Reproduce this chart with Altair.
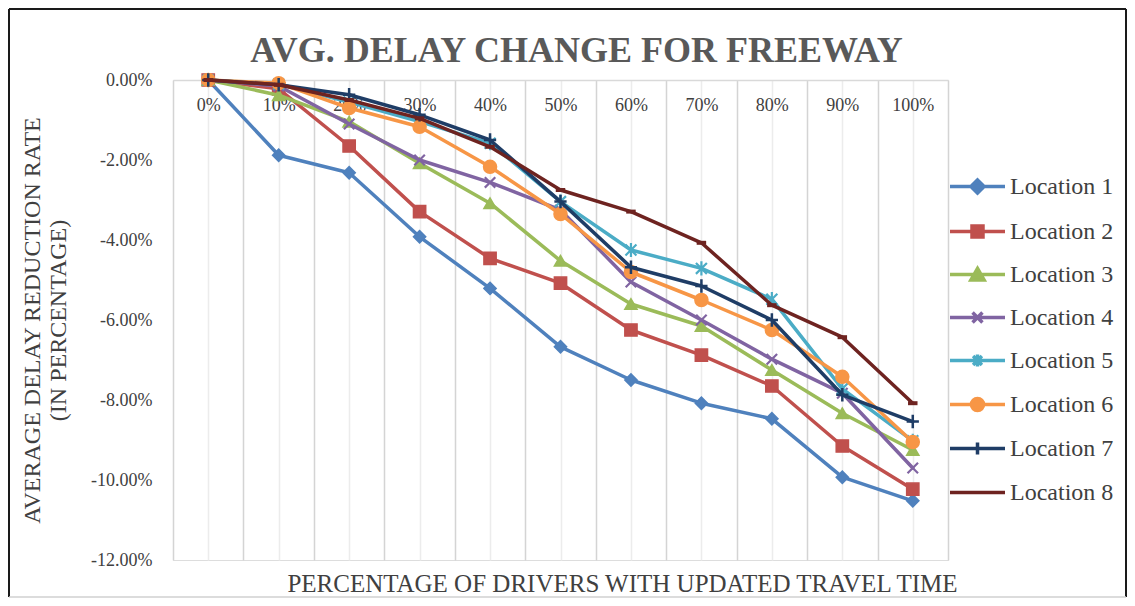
import altair as alt
import pandas as pd

# ---- data -------------------------------------------------------------
pct = [0, 10, 20, 30, 40, 50, 60, 70, 80, 90, 100]
locations = ["Location 1", "Location 2", "Location 3", "Location 4",
             "Location 5", "Location 6", "Location 7", "Location 8"]

loc1 = [0, -1.88, -2.32, -3.92, -5.21, -6.67, -7.50, -8.08, -8.47, -9.93, -10.52]
loc2 = [0, -0.22, -1.65, -3.29, -4.46, -5.08, -6.25, -6.88, -7.65, -9.15, -10.23]
loc3 = [0, -0.38, -1.04, -2.08, -3.08, -4.52, -5.60, -6.15, -7.25, -8.33, -9.25]
loc4 = [0, -0.15, -1.10, -2.00, -2.56, -3.25, -5.05, -6.00, -6.98, -7.83, -9.70]
loc5 = [0, -0.10, -0.55, -1.04, -1.58, -3.04, -4.25, -4.71, -5.48, -7.72, -9.02]
loc6 = [0, -0.08, -0.70, -1.17, -2.17, -3.35, -4.80, -5.50, -6.25, -7.42, -9.05]
loc7 = [0, -0.12, -0.37, -0.87, -1.50, -3.04, -4.68, -5.15, -6.00, -7.87, -8.54]
loc8 = [0, -0.12, -0.50, -0.96, -1.67, -2.75, -3.29, -4.07, -5.63, -6.43, -8.08]
series = [loc1, loc2, loc3, loc4, loc5, loc6, loc7, loc8]

y_ticks = [0, -2, -4, -6, -8, -10, -12]

colors = ["#4F81BD", "#C0504D", "#9BBB59", "#8064A2",
          "#4BACC6", "#F79646", "#1F3D66", "#6E2320"]

# plot markers (Vega symbol shapes / unit paths)
plot_shapes = ["diamond", "square", "triangle-up",
               "M-1,-1L1,1M-1,1L1,-1",
               "M-1,-1L1,1M-1,1L1,-1M0,-1.3V1.3",
               "circle",
               "M-1,0H1M0,-1.1V1.1",
               "M-1,0H1"]
plot_sizes = [150, 150, 150, 110, 120, 170, 150, 90]
plot_strokes = [1.5, 1.5, 1.5, 2.2, 2.2, 1.5, 2.5, 4]

# legend symbols: line segment with marker
legend_shapes = [
    "M-1,0H1M0,-0.24L0.24,0L0,0.24L-0.24,0Z",
    "M-1,0H1M-0.2,-0.2H0.2V0.2H-0.2Z",
    "M-1,0H1M0,-0.22L0.24,0.2H-0.24Z",
    "M-1,0H1M-0.18,-0.18L0.18,0.18M-0.18,0.18L0.18,-0.18",
    "M-1,0H1M-0.16,-0.16L0.16,0.16M-0.16,0.16L0.16,-0.16M0,-0.22V0.22",
    "M-1,0H1M-0.22,0A0.22,0.22 0 1,0 0.22,0A0.22,0.22 0 1,0 -0.22,0Z",
    "M-1,0H1M0,-0.22V0.22",
    "M-1,0H1",
]

rows = []
for name, vals in zip(locations, series):
    for p, v in zip(pct, vals):
        rows.append({"pct": p, "val": v, "loc": name})
df = pd.DataFrame(rows)

FONT = "Liberation Serif"
TXT = "#404040"
W, H = 775, 480

x_enc = alt.X(
    "pct:Q",
    scale=alt.Scale(domain=[-5, 105], nice=False, zero=False),
    axis=alt.Axis(
        orient="bottom", offset=-H,
        values=list(range(-5, 106, 5)),
        labelExpr="datum.value % 10 === 0 ? datum.value + '%' : ''",
        labelFont=FONT, labelFontSize=18, labelColor=TXT,
        labelPadding=16, labelOverlap=False, labelFlush=False,
        ticks=False, tickSize=0,
        domain=True, domainColor="#d9d9d9", domainWidth=1.5,
        grid=True, gridWidth=1.5,
        gridColor={"condition": {"test": "datum.value % 10 === 0", "value": "#ececec"},
                   "value": "#d4d4d4"},
        title="PERCENTAGE OF DRIVERS WITH UPDATED TRAVEL TIME",
        titleFont=FONT, titleFontSize=25, titleFontWeight="normal", titleColor=TXT,
        titleX=449, titleY=511, titleAlign="center", titleBaseline="alphabetic",
    ),
)
y_enc = alt.Y(
    "val:Q",
    scale=alt.Scale(domain=[-12, 0], nice=False, zero=False),
    axis=alt.Axis(
        values=y_ticks,
        labelExpr="replace(format(datum.value, '.2f'), '\u2212', '-') + '%'",
        labelFont=FONT, labelFontSize=18, labelColor=TXT, labelPadding=21,
        domain=False, ticks=False, grid=False,
        title=["AVERAGE DELAY REDUCTION RATE", "(IN PERCENTAGE)"],
        titleFont=FONT, titleFontSize=24, titleFontWeight="normal", titleColor=TXT,
        titleX=-141, titleY=240, titleAlign="center", titleBaseline="middle",
        titleLineHeight=26,
    ),
)

base = alt.Chart(df)
layers = []
for i, name in enumerate(locations):
    sub = base.transform_filter(alt.datum.loc == name)
    layers.append(
        sub.mark_line(color=colors[i], strokeWidth=3.5, strokeJoin="round", strokeCap="round")
        .encode(x=x_enc, y=y_enc)
    )
    layers.append(
        sub.mark_point(shape=plot_shapes[i], size=plot_sizes[i], filled=True,
                       fill=colors[i], stroke=colors[i], strokeWidth=plot_strokes[i],
                       opacity=1)
        .encode(x=x_enc, y=y_enc)
    )

leg = alt.Legend(
    title=None, orient="none", legendX=W, legendY=77, padding=0,
    symbolSize=3025, symbolStrokeWidth=3.5, symbolOpacity=1,
    labelFont=FONT, labelFontSize=24, labelColor=TXT, labelOffset=3,
    rowPadding=1, labelLimit=300,
)
legend_layer = alt.Chart(alt.Data(values=[])).mark_point(opacity=1, filled=True).encode(
    fill=alt.Fill("loc:N", scale=alt.Scale(domain=locations, range=colors), legend=leg),
    stroke=alt.Stroke("loc:N", scale=alt.Scale(domain=locations, range=colors), legend=leg),
    shape=alt.Shape("loc:N", scale=alt.Scale(domain=locations, range=legend_shapes), legend=leg),
)
layers.append(legend_layer)

# outer frame of the chart
frame_df = pd.DataFrame({"k": [0]})
fr = alt.Chart(frame_df)
layers.append(fr.mark_rule(color="#1a1a1a", strokeWidth=2).encode(
    x=alt.value(-164), x2=alt.value(953), y=alt.value(-71)))
layers.append(fr.mark_rule(color="#1a1a1a", strokeWidth=2).encode(
    x=alt.value(-164), y=alt.value(-71), y2=alt.value(517)))
layers.append(fr.mark_rule(color="#1a1a1a", strokeWidth=2).encode(
    x=alt.value(953), y=alt.value(-71), y2=alt.value(517)))
layers.append(fr.mark_rule(color="#d0d0d0", strokeWidth=1.5).encode(
    x=alt.value(-164), x2=alt.value(953), y=alt.value(517)))

chart = alt.layer(*layers).properties(
    width=W, height=H,
    autosize=alt.AutoSizeParams(type="none"),
    padding={"left": 165, "top": 72, "right": 179, "bottom": 38},
    title=alt.Title("AVG. DELAY CHANGE FOR FREEWAY", font=FONT, fontSize=36,
                    fontWeight="bold", color="#595959", anchor="middle",
                    frame="group", dx=16, dy=90, baseline="alphabetic", offset=0),
).configure_view(strokeWidth=0).configure(background="white")

chart.save("out.html", embed_options={"renderer": "svg", "actions": False})
